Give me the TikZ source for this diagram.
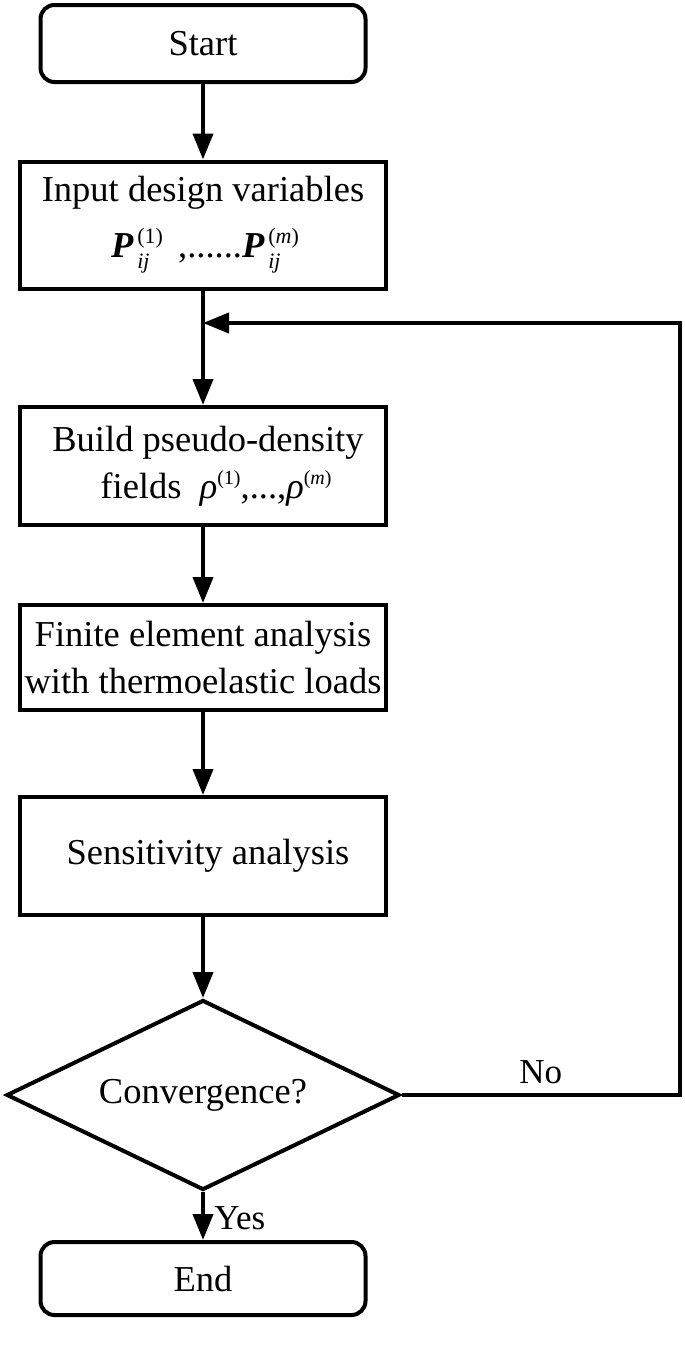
\documentclass[tikz,border=0pt]{standalone}
\usepackage{fontspec}
\setmainfont{Liberation Serif}
\usetikzlibrary{shapes.geometric,arrows.meta}
\newcommand{\Pvar}[1]{\textbf{\textit{P}}\rlap{\raisebox{-11pt}{\fontsize{22}{22}\selectfont\,\textit{ij}}}\raisebox{14pt}{\fontsize{22}{22}\selectfont\,(#1)}}
\newcommand{\rhovar}[1]{{\itshape ρ}\raisebox{14pt}{\fontsize{20}{20}\selectfont(#1)}}
\begin{document}
\begin{tikzpicture}[x=1pt,y=1pt,
  txt/.style={font=\fontsize{36.5}{47}\selectfont},
  box/.style={txt,draw,line width=4pt,rectangle,minimum width=366pt,inner sep=0pt,align=center},
  term/.style={box,rounded corners=14pt,minimum width=325pt},
  dec/.style={txt,draw,line width=4pt,diamond,aspect=2.07,minimum width=393pt,minimum height=190pt,inner sep=0pt},
  arr/.style={line width=4pt,-{Triangle[length=26pt,width=20pt]}},
  lbl/.style={font=\fontsize{35}{38}\selectfont}]
\useasboundingbox (0,0) rectangle (685,-1360);

\node[term,minimum height=77pt] (start) at (203,-43.5) {Start};
\node[box,minimum height=127pt] (input) at (203,-225) {Input design variables\\[9pt] \hspace*{4pt}\Pvar{1} \,,......\Pvar{\textit{m}}};
\node[box,minimum height=118pt] (build) at (203,-466) {\hspace*{10pt}Build pseudo-density\\ \hspace*{26pt}fields \ \rhovar{1},...,\rhovar{\textit{m}}};
\node[box,minimum height=105pt] (fea) at (203,-657.5) {Finite element analysis\\with thermoelastic loads};
\node[box,minimum height=118pt] (sens) at (203,-856) {\hspace*{10pt}Sensitivity analysis};
\node[dec] (conv) at (203,-1095) {Convergence?};
\node[term,minimum height=73pt] (end) at (203,-1278.5) {End};

\coordinate (j) at (203,-323);
\coordinate (ne) at (680,-323);

\draw[arr] (start) -- (input);
\draw[arr] (input) -- (build);
\draw[arr] (build) -- (fea);
\draw[arr] (fea) -- (sens);
\draw[arr] (sens) -- (conv);
\draw[arr] (conv) -- node[lbl,right=6pt,pos=0.55] (yes) {Yes} (end);
\draw[arr] (conv.east) -- node[lbl,above=6pt,pos=0.5] (no) {No} (ne |- conv.east) -- (ne) -- (j);
\end{tikzpicture}
\end{document}
